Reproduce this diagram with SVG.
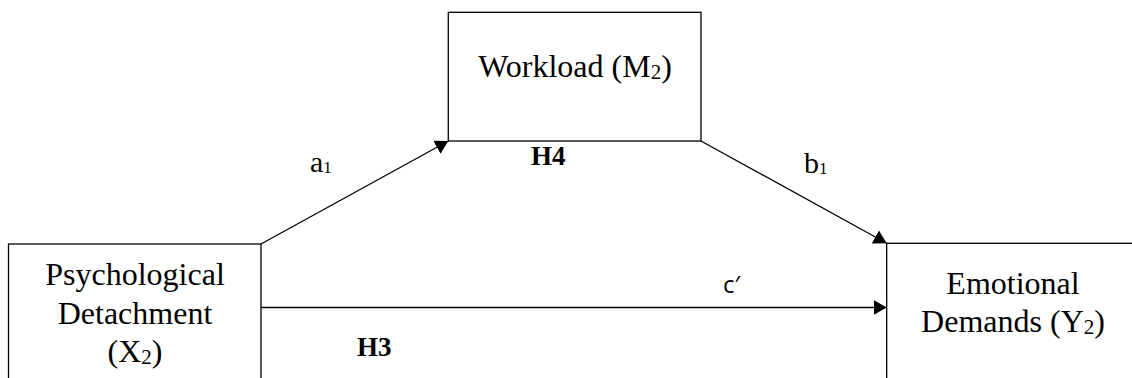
<svg xmlns="http://www.w3.org/2000/svg" width="1132" height="378" viewBox="0 0 1132 378">
<style>
.box{fill:#fff;stroke:#000;stroke-width:1.3}
.lbl{font-family:"Liberation Serif","Times New Roman",serif;font-size:32px;fill:#000;text-anchor:middle}
.path{font-family:"Liberation Serif","Times New Roman",serif;font-size:30px;fill:#000}
.hyp{font-family:"Liberation Serif","Times New Roman",serif;font-size:27px;font-weight:bold;fill:#000}
.sans{font-family:"Open Sans","Liberation Sans",sans-serif;font-size:24px;fill:#000}
.edge{stroke:#000;stroke-width:1.3;fill:none;marker-end:url(#arr)}
</style>
<defs>
<marker id="arr" markerUnits="userSpaceOnUse" markerWidth="14" markerHeight="15" refX="13" refY="7.5" orient="auto">
<path d="M0,0 L13,7.5 L0,15 z" fill="#000"/>
</marker>
</defs>
<rect width="1132" height="378" fill="#fff"/>
<g id="node-x2">
<rect class="box" x="8.5" y="244" width="252.5" height="200"/>
<text class="lbl" x="135" y="285">Psychological</text>
<text class="lbl" x="135" y="324">Detachment</text>
<text class="lbl" x="135" y="362">(X<tspan font-size="21" dy="2">2</tspan><tspan dy="-2">)</tspan></text>
</g>
<g id="node-m2">
<rect class="box" x="448.3" y="12.3" width="252.7" height="128.7"/>
<text class="lbl" x="575" y="77">Workload (M<tspan font-size="21" dy="2">2</tspan><tspan dy="-2">)</tspan></text>
</g>
<g id="node-y2">
<rect class="box" x="886.7" y="243.3" width="300" height="200"/>
<text class="lbl" x="1013" y="294">Emotional</text>
<text class="lbl" x="1013" y="332">Demands (Y<tspan font-size="21" dy="2">2</tspan><tspan dy="-2">)</tspan></text>
</g>
<g id="connectors">
<line class="edge" x1="261" y1="244" x2="448.3" y2="141"/>
<line class="edge" x1="701" y1="141" x2="886.7" y2="243.3"/>
<line class="edge" x1="261" y1="307.5" x2="886.7" y2="307.5"/>
</g>
<g id="labels">
<text class="path" x="310" y="172">a<tspan font-size="17" dy="1">1</tspan></text>
<text class="path" x="804" y="173">b<tspan font-size="17" dy="1">1</tspan></text>
<text class="hyp" x="531" y="165">H4</text>
<text class="hyp" x="357" y="356">H3</text>
<text class="sans" x="723" y="293">c′</text>
</g>
</svg>
